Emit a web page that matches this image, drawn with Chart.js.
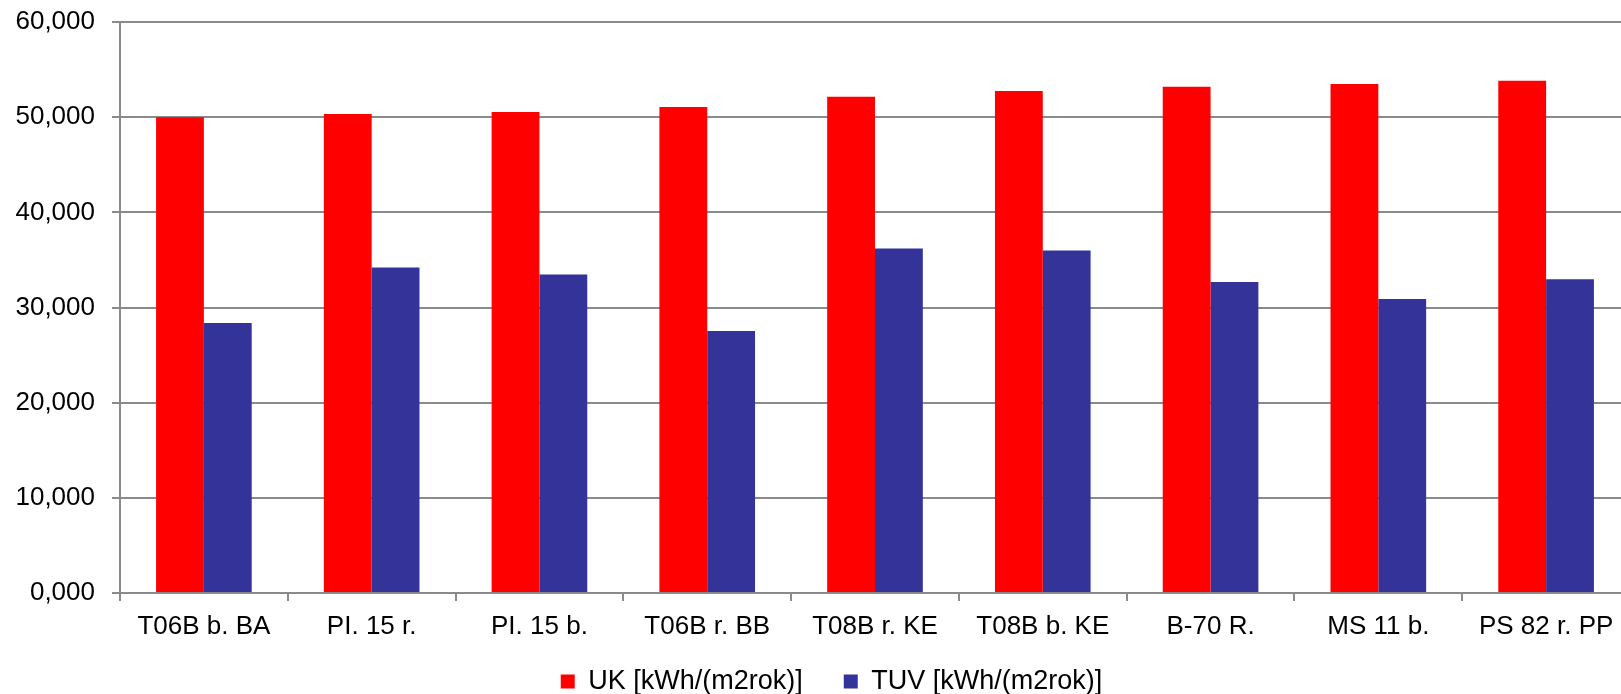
<!DOCTYPE html>
<html>
<head>
<meta charset="utf-8">
<script src="https://cdn.jsdelivr.net/npm/chart.js@4.4.1/dist/chart.umd.min.js"></script>
<style>
  html, body { margin: 0; padding: 0; background: #ffffff; overflow: hidden; }
  #wrap { position: relative; width: 1640px; height: 694px; }
</style>
</head>
<body>
<div id="wrap"><canvas id="c"></canvas></div>
<script>
const categories = ['T06B b. BA', 'PI. 15 r.', 'PI. 15 b.', 'T06B r. BB', 'T08B r. KE', 'T08B b. KE', 'B-70 R.', 'MS 11 b.', 'PS 82 r. PP'];
const ukValues  = [50.0, 50.34, 50.55, 51.07, 52.15, 52.75, 53.2, 53.49, 53.83];
const tuvValues = [28.36, 34.2, 33.46, 27.52, 36.21, 35.98, 32.69, 30.9, 32.97];
const seriesNames = ['UK [kWh/(m2rok)]', 'TUV [kWh/(m2rok)]'];
const yTickLabels = ['0,000', '10,000', '20,000', '30,000', '40,000', '50,000', '60,000'];

const FONT = "'Liberation Sans', Arial, Helvetica, sans-serif";
const gridColor = '#8a8a8a';

new Chart(document.getElementById('c'), {
  type: 'bar',
  data: {
    labels: categories,
    datasets: [
      { label: seriesNames[0], data: ukValues, backgroundColor: '#ff0000', borderWidth: 0,
        categoryPercentage: 0.57, barPercentage: 1.0 },
      { label: seriesNames[1], data: tuvValues, backgroundColor: '#333399', borderWidth: 0,
        categoryPercentage: 0.57, barPercentage: 1.0 }
    ]
  },
  options: {
    responsive: true,
    maintainAspectRatio: false,
    animation: false,
    layout: { padding: { top: 22, right: 10, left: 33, bottom: -11 } },
    plugins: {
      legend: {
        position: 'bottom',
        labels: {
          boxWidth: 14, boxHeight: 14, padding: 41,
          color: '#000000',
          font: { family: FONT, size: 27 }
        }
      },
      tooltip: { enabled: false },
      title: { display: false }
    },
    scales: {
      x: {
        grid: { display: true, drawOnChartArea: false, offset: true, color: gridColor, lineWidth: 2, tickLength: 8 },
        border: { display: true, color: gridColor, width: 2 },
        ticks: { color: '#000000', font: { family: FONT, size: 26 }, padding: 10, maxRotation: 0, autoSkip: false },
        afterFit: (s) => {
          s.height = 34;
          s._computeLabelArea = () => undefined;
        }
      },
      y: {
        min: 0, max: 60,
        ticks: {
          stepSize: 10,
          color: '#000000',
          font: { family: FONT, size: 26 },
          padding: 17,
          callback: (v, i) => yTickLabels[i]
        },
        grid: { color: gridColor, lineWidth: 2, tickLength: 8 },
        border: { display: true, color: gridColor, width: 2 },
        afterFit: (s) => {
          s.width = 87;
          s.paddingTop = 10;
          s.paddingBottom = 10;
          s._computeLabelArea = () => undefined;
        }
      }
    }
  }
});
</script>
</body>
</html>
